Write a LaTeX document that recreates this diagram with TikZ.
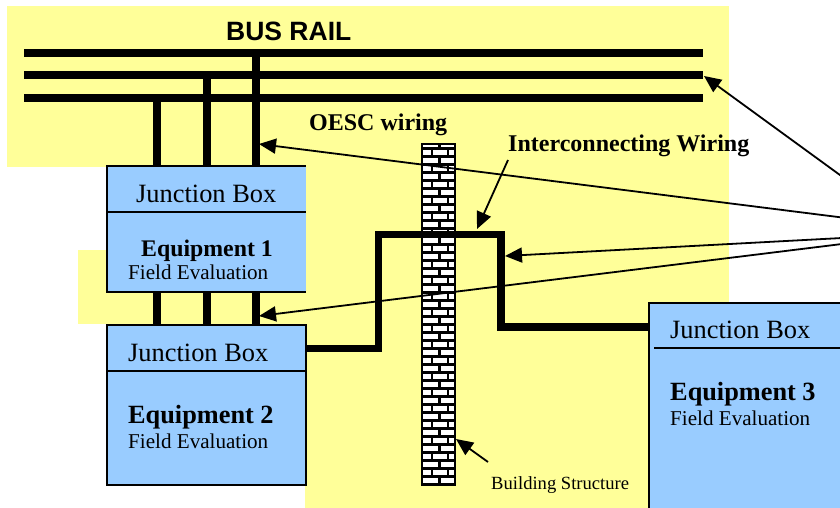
\documentclass[tikz,border=0pt]{standalone}
\usepackage{fontspec}
\setmainfont{Liberation Serif}
\newfontfamily\arialfont{Liberation Sans}
\usetikzlibrary{arrows.meta}
\definecolor{padyellow}{HTML}{FFFF99}
\definecolor{boxblue}{HTML}{99CCFF}
\tikzset{
  x=1pt,y=-1pt,
  pad/.style={fill=padyellow,draw=none},
  rail/.style={line width=8pt,draw=black,line cap=butt},
  stub/.style={line width=8pt,draw=black,line cap=butt},
  wire/.style={line width=7.5pt,draw=black,line join=miter},
  unitbox/.style={draw=black,line width=2pt,fill=boxblue,anchor=north west,inner sep=0pt,outer sep=0pt},
  septr/.style={line width=2pt,draw=black},
  lead/.style={line width=1.8pt,draw=black,-{Triangle[length=17pt,width=15pt]}},
  txt/.style={anchor=base west,inner sep=0pt,text=black},
  jb/.style={txt,font=\fontsize{26.4}{26}\selectfont},
  eqbig/.style={txt,font=\fontsize{26.3}{26}\selectfont\bfseries},
  eqsmall/.style={txt,font=\fontsize{23.8}{24}\selectfont\bfseries},
  fe/.style={txt,font=\fontsize{21.1}{21}\selectfont},
  lab/.style={txt,font=\fontsize{24}{24}\selectfont\bfseries},
}
\begin{document}
\begin{tikzpicture}
\useasboundingbox (0,0) rectangle (840,508);
\clip (0,0) rectangle (840,508);
% yellow background
\fill[pad] (7,6) rectangle (729,167);
\fill[pad] (305,167) rectangle (729,508);
\fill[pad] (78,250) rectangle (305,324);
% rails
\coordinate (r1l) at (24,53); \coordinate (r1r) at (703,53);
\coordinate (r2l) at (24,75.5); \coordinate (r2r) at (703,75.5);
\coordinate (r3l) at (24,98); \coordinate (r3r) at (703,98);
\draw[rail] (r1l) -- (r1r);
\draw[rail] (r2l) -- (r2r);
\draw[rail] (r3l) -- (r3r);
% boxes
\node[unitbox,minimum width=198pt,minimum height=126pt] (eq1) at (107,166) {};
\node[unitbox,minimum width=199pt,minimum height=160pt] (eq2) at (107,325) {};
\node[unitbox,minimum width=200pt,minimum height=206pt] (eq3) at (649,303) {};
\fill[boxblue] (304,167) rectangle (305.5,291);
% stubs
\draw[stub] (157,98) -- (157,166);
\draw[stub] (206.5,75.5) -- (206.5,166);
\draw[stub] (256,53) -- (256,166);
\draw[stub] (157,292) -- (157,325);
\draw[stub] (206.5,292) -- (206.5,325);
\draw[stub] (256,292) -- (256,325);
% separators
\draw[septr] (107,212) -- (306,212);
\draw[septr] (107,371) -- (306,371);
\draw[septr] (654,348) -- (840,348);
% wall
\fill[white] (421,144) rectangle (455,485);
\foreach \r in {0,...,42} {
  \pgfmathsetmacro{\yy}{148.5+8*\r}
  \pgfmathsetmacro{\ya}{\yy-8}
  \draw[black,line width=2.2pt] (422,\yy) -- (455,\yy);
  \ifodd\r
    \draw[black,line width=2.2pt] (432,\ya) -- (432,\yy);
    \draw[black,line width=2.2pt] (448,\ya) -- (448,\yy);
  \else
    \draw[black,line width=2.2pt] (439.5,\ya) -- (439.5,\yy);
  \fi
}
\fill[padyellow] (420,136) rectangle (457,143);
\fill[padyellow] (420,486) rectangle (457,492);
\draw[black,line width=2.4pt] (422,144) rectangle (455,485);
% wiring
\coordinate (w1) at (378.5,348.5);
\coordinate (w2) at (378.5,234.5);
\coordinate (w3) at (501,234.5);
\coordinate (w4) at (501,327);
\draw[wire] (eq2.east |- w1) -- (w1) -- (w2) -- (w3) -- (w4) -- (eq3.west |- w4);
% texts
\node[txt,font=\arialfont\fontsize{26.5}{26}\selectfont\bfseries] (busrail) at (226,41) {BUS RAIL};
\node[lab] (oesc) at (309,131) {OESC wiring};
\node[lab] (iw) at (508,151) {Interconnecting Wiring};
\node[jb] (jb1) at (136,202) {Junction Box};
\node[eqsmall] (e1) at (141,256) {Equipment 1};
\node[fe] (f1) at (128,279) {Field Evaluation};
\node[jb] (jb2) at (128,361) {Junction Box};
\node[eqbig] (e2) at (128,423) {Equipment 2};
\node[fe] (f2) at (128,448) {Field Evaluation};
\node[jb] (jb3) at (670,338) {Junction Box};
\node[eqbig] (e3) at (670,400) {Equipment 3};
\node[fe] (f3) at (670,425) {Field Evaluation};
\node[txt,font=\fontsize{18.6}{18}\selectfont] (bs) at (491,489) {Building Structure};
% leaders
\coordinate (s1) at (842,176.5); \coordinate (t1) at (704,76);
\coordinate (s2) at (842,217.5); \coordinate (t2) at (259,144);
\coordinate (s3) at (842,238); \coordinate (t3) at (505,256);
\coordinate (s4) at (842,244); \coordinate (t4) at (259,316);
\coordinate (s5) at (508,160); \coordinate (t5) at (477,229);
\coordinate (s6) at (488,462); \coordinate (t6) at (456,439);
\draw[lead] (s1) -- (t1);
\draw[lead] (s2) -- (t2);
\draw[lead] (s3) -- (t3);
\draw[lead] (s4) -- (t4);
\draw[lead] (s5) -- (t5);
\draw[lead] (s6) -- (t6);
\end{tikzpicture}
\end{document}
